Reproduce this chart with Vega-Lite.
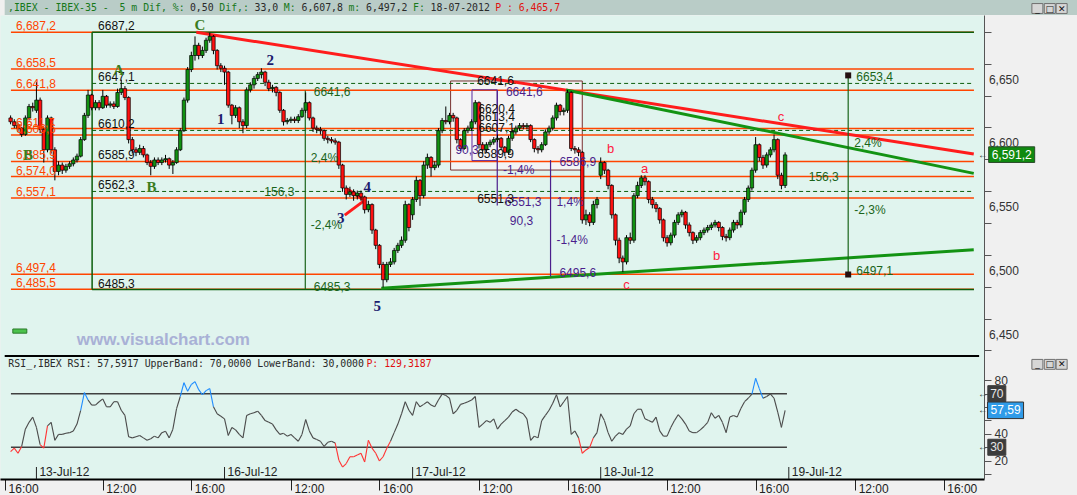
{
"$schema":"https://vega.github.io/schema/vega-lite/v6.json",
"width":984,"height":464,
"autosize":{"type":"none"},
"padding":{"left":0,"top":15,"right":93,"bottom":16},
"background":"#f0f0f0",
"config":{"view":{"fill":"#e0f4ee","stroke":"transparent"},"font":"Liberation Sans","axis":{"titleColor":"transparent","grid":false}},
"datasets":{
"bars":[
{"i":0,"o":6620,"h":6622,"l":6615,"c":6617,"r":26.8},
{"i":1,"o":6617,"h":6619,"l":6612,"c":6614,"r":29.3},
{"i":2,"o":6614,"h":6616,"l":6609,"c":6612,"r":25.5},
{"i":3,"o":6612,"h":6613,"l":6605,"c":6607,"r":30.6},
{"i":4,"o":6607,"h":6622,"l":6606,"c":6620,"r":43.5},
{"i":5,"o":6620,"h":6631,"l":6618,"c":6629,"r":48.6},
{"i":6,"o":6629,"h":6632,"l":6625,"c":6628,"r":52.5},
{"i":7,"o":6626,"h":6648,"l":6624,"c":6634,"r":44.8},
{"i":8,"o":6634,"h":6636,"l":6608,"c":6611,"r":31.9},
{"i":9,"o":6611,"h":6613,"l":6585,"c":6595,"r":29.3},
{"i":10,"o":6595,"h":6622,"l":6593,"c":6620,"r":46.0},
{"i":11,"o":6620,"h":6621,"l":6592,"c":6595,"r":48.6},
{"i":12,"o":6595,"h":6597,"l":6571,"c":6578,"r":35.2},
{"i":13,"o":6578,"h":6586,"l":6575,"c":6583,"r":39.6},
{"i":14,"o":6583,"h":6585,"l":6576,"c":6579,"r":39.6},
{"i":15,"o":6579,"h":6584,"l":6577,"c":6582,"r":40.4},
{"i":16,"o":6582,"h":6586,"l":6580,"c":6584,"r":40.9},
{"i":17,"o":6584,"h":6589,"l":6582,"c":6587,"r":42.2},
{"i":18,"o":6587,"h":6592,"l":6585,"c":6590,"r":47.3},
{"i":19,"o":6590,"h":6605,"l":6589,"c":6603,"r":57.6},
{"i":20,"o":6603,"h":6624,"l":6602,"c":6622,"r":70.8},
{"i":21,"o":6622,"h":6642,"l":6620,"c":6638,"r":65.3},
{"i":22,"o":6638,"h":6639,"l":6626,"c":6628,"r":61.5},
{"i":23,"o":6628,"h":6634,"l":6626,"c":6632,"r":61.5},
{"i":24,"o":6632,"h":6634,"l":6626,"c":6628,"r":64.0},
{"i":25,"o":6628,"h":6642,"l":6627,"c":6637,"r":66.1},
{"i":26,"o":6637,"h":6638,"l":6628,"c":6630,"r":60.2},
{"i":27,"o":6630,"h":6633,"l":6628,"c":6631,"r":60.2},
{"i":28,"o":6631,"h":6633,"l":6627,"c":6629,"r":64.0},
{"i":29,"o":6629,"h":6643,"l":6628,"c":6640,"r":64.0},
{"i":30,"o":6640,"h":6650,"l":6638,"c":6643,"r":57.6},
{"i":31,"o":6643,"h":6645,"l":6634,"c":6636,"r":53.8},
{"i":32,"o":6636,"h":6637,"l":6600,"c":6603,"r":37.8},
{"i":33,"o":6603,"h":6605,"l":6592,"c":6595,"r":37.0},
{"i":34,"o":6595,"h":6597,"l":6590,"c":6593,"r":37.8},
{"i":35,"o":6593,"h":6599,"l":6591,"c":6596,"r":38.8},
{"i":36,"o":6596,"h":6598,"l":6589,"c":6591,"r":37.0},
{"i":37,"o":6591,"h":6592,"l":6583,"c":6585,"r":35.2},
{"i":38,"o":6585,"h":6587,"l":6575,"c":6582,"r":36.3},
{"i":39,"o":6582,"h":6589,"l":6580,"c":6587,"r":38.3},
{"i":40,"o":6587,"h":6589,"l":6583,"c":6585,"r":37.0},
{"i":41,"o":6585,"h":6589,"l":6583,"c":6587,"r":40.9},
{"i":42,"o":6587,"h":6591,"l":6585,"c":6588,"r":41.9},
{"i":43,"o":6588,"h":6589,"l":6580,"c":6583,"r":37.0},
{"i":44,"o":6583,"h":6587,"l":6576,"c":6585,"r":43.5},
{"i":45,"o":6585,"h":6597,"l":6584,"c":6595,"r":58.9},
{"i":46,"o":6595,"h":6612,"l":6594,"c":6610,"r":67.9},
{"i":47,"o":6610,"h":6636,"l":6609,"c":6634,"r":78.2},
{"i":48,"o":6634,"h":6660,"l":6632,"c":6658,"r":71.8},
{"i":49,"o":6658,"h":6672,"l":6656,"c":6669,"r":76.9},
{"i":50,"o":6669,"h":6684,"l":6665,"c":6677,"r":79.0},
{"i":51,"o":6677,"h":6679,"l":6666,"c":6669,"r":73.0},
{"i":52,"o":6669,"h":6676,"l":6667,"c":6673,"r":69.2},
{"i":53,"o":6673,"h":6683,"l":6671,"c":6681,"r":72.3},
{"i":54,"o":6681,"h":6687,"l":6679,"c":6684,"r":73.8},
{"i":55,"o":6684,"h":6685,"l":6670,"c":6673,"r":60.2},
{"i":56,"o":6673,"h":6674,"l":6658,"c":6661,"r":55.0},
{"i":57,"o":6661,"h":6663,"l":6656,"c":6659,"r":53.2},
{"i":58,"o":6659,"h":6661,"l":6646,"c":6656,"r":51.2},
{"i":59,"o":6656,"h":6657,"l":6628,"c":6630,"r":38.8},
{"i":60,"o":6630,"h":6631,"l":6615,"c":6622,"r":44.8},
{"i":61,"o":6622,"h":6630,"l":6620,"c":6628,"r":43.0},
{"i":62,"o":6628,"h":6629,"l":6612,"c":6617,"r":39.6},
{"i":63,"o":6617,"h":6619,"l":6608,"c":6614,"r":37.0},
{"i":64,"o":6614,"h":6644,"l":6612,"c":6642,"r":53.8},
{"i":65,"o":6642,"h":6648,"l":6640,"c":6646,"r":55.0},
{"i":66,"o":6646,"h":6653,"l":6643,"c":6651,"r":55.8},
{"i":67,"o":6651,"h":6656,"l":6649,"c":6654,"r":56.9},
{"i":68,"o":6654,"h":6659,"l":6651,"c":6656,"r":53.8},
{"i":69,"o":6656,"h":6657,"l":6645,"c":6648,"r":49.9},
{"i":70,"o":6648,"h":6650,"l":6641,"c":6643,"r":48.6},
{"i":71,"o":6643,"h":6646,"l":6640,"c":6644,"r":47.3},
{"i":72,"o":6644,"h":6645,"l":6637,"c":6640,"r":43.0},
{"i":73,"o":6640,"h":6641,"l":6624,"c":6626,"r":39.6},
{"i":74,"o":6626,"h":6627,"l":6614,"c":6617,"r":40.4},
{"i":75,"o":6617,"h":6620,"l":6615,"c":6618,"r":38.3},
{"i":76,"o":6618,"h":6621,"l":6616,"c":6619,"r":39.6},
{"i":77,"o":6619,"h":6621,"l":6616,"c":6618,"r":37.0},
{"i":78,"o":6618,"h":6623,"l":6616,"c":6621,"r":34.5},
{"i":79,"o":6621,"h":6628,"l":6620,"c":6626,"r":39.6},
{"i":80,"o":6626,"h":6640,"l":6624,"c":6632,"r":50.7},
{"i":81,"o":6632,"h":6633,"l":6618,"c":6620,"r":42.2},
{"i":82,"o":6620,"h":6621,"l":6609,"c":6612,"r":37.0},
{"i":83,"o":6612,"h":6614,"l":6608,"c":6611,"r":35.8},
{"i":84,"o":6611,"h":6613,"l":6607,"c":6610,"r":34.5},
{"i":85,"o":6610,"h":6611,"l":6602,"c":6604,"r":30.6},
{"i":86,"o":6604,"h":6606,"l":6600,"c":6603,"r":33.7},
{"i":87,"o":6603,"h":6605,"l":6600,"c":6602,"r":34.5},
{"i":88,"o":6602,"h":6604,"l":6599,"c":6601,"r":33.2},
{"i":89,"o":6601,"h":6602,"l":6580,"c":6583,"r":20.3},
{"i":90,"o":6583,"h":6584,"l":6562,"c":6565,"r":15.2},
{"i":91,"o":6565,"h":6567,"l":6556,"c":6560,"r":17.8},
{"i":92,"o":6560,"h":6566,"l":6558,"c":6562,"r":22.9},
{"i":93,"o":6562,"h":6564,"l":6555,"c":6559,"r":22.9},
{"i":94,"o":6559,"h":6563,"l":6556,"c":6561,"r":24.2},
{"i":95,"o":6561,"h":6563,"l":6555,"c":6558,"r":25.5},
{"i":96,"o":6558,"h":6559,"l":6545,"c":6548,"r":19.0},
{"i":97,"o":6548,"h":6555,"l":6546,"c":6552,"r":35.2},
{"i":98,"o":6552,"h":6553,"l":6529,"c":6532,"r":29.3},
{"i":99,"o":6532,"h":6533,"l":6517,"c":6520,"r":25.5},
{"i":100,"o":6520,"h":6521,"l":6502,"c":6505,"r":19.8},
{"i":101,"o":6505,"h":6507,"l":6487,"c":6493,"r":22.9},
{"i":102,"o":6493,"h":6507,"l":6491,"c":6505,"r":29.3},
{"i":103,"o":6505,"h":6510,"l":6503,"c":6507,"r":34.5},
{"i":104,"o":6507,"h":6518,"l":6505,"c":6516,"r":40.9},
{"i":105,"o":6516,"h":6522,"l":6514,"c":6520,"r":47.3},
{"i":106,"o":6520,"h":6527,"l":6518,"c":6524,"r":55.0},
{"i":107,"o":6524,"h":6555,"l":6522,"c":6552,"r":64.0},
{"i":108,"o":6552,"h":6553,"l":6531,"c":6534,"r":57.6},
{"i":109,"o":6544,"h":6558,"l":6540,"c":6556,"r":53.8},
{"i":110,"o":6556,"h":6574,"l":6554,"c":6571,"r":64.0},
{"i":111,"o":6571,"h":6572,"l":6551,"c":6559,"r":60.2},
{"i":112,"o":6559,"h":6586,"l":6557,"c":6583,"r":62.0},
{"i":113,"o":6583,"h":6592,"l":6580,"c":6589,"r":64.0},
{"i":114,"o":6589,"h":6590,"l":6574,"c":6581,"r":61.5},
{"i":115,"o":6581,"h":6586,"l":6579,"c":6583,"r":60.2},
{"i":116,"o":6583,"h":6612,"l":6581,"c":6610,"r":65.3},
{"i":117,"o":6610,"h":6620,"l":6608,"c":6618,"r":69.7},
{"i":118,"o":6618,"h":6629,"l":6615,"c":6617,"r":68.7},
{"i":119,"o":6617,"h":6624,"l":6615,"c":6622,"r":66.6},
{"i":120,"o":6622,"h":6624,"l":6617,"c":6620,"r":55.0},
{"i":121,"o":6620,"h":6621,"l":6600,"c":6603,"r":57.6},
{"i":122,"o":6603,"h":6604,"l":6594,"c":6596,"r":62.0},
{"i":123,"o":6596,"h":6612,"l":6595,"c":6610,"r":62.8},
{"i":124,"o":6610,"h":6614,"l":6608,"c":6612,"r":64.0},
{"i":125,"o":6612,"h":6619,"l":6610,"c":6617,"r":65.3},
{"i":126,"o":6617,"h":6634,"l":6615,"c":6632,"r":67.9},
{"i":127,"o":6632,"h":6633,"l":6596,"c":6599,"r":44.8},
{"i":128,"o":6599,"h":6601,"l":6592,"c":6595,"r":47.3},
{"i":129,"o":6595,"h":6601,"l":6593,"c":6599,"r":49.9},
{"i":130,"o":6599,"h":6603,"l":6597,"c":6601,"r":48.6},
{"i":131,"o":6601,"h":6605,"l":6599,"c":6603,"r":51.2},
{"i":132,"o":6603,"h":6607,"l":6601,"c":6604,"r":43.5},
{"i":133,"o":6604,"h":6605,"l":6595,"c":6597,"r":47.3},
{"i":134,"o":6597,"h":6598,"l":6590,"c":6593,"r":49.9},
{"i":135,"o":6593,"h":6606,"l":6591,"c":6604,"r":52.5},
{"i":136,"o":6604,"h":6611,"l":6602,"c":6609,"r":56.3},
{"i":137,"o":6609,"h":6614,"l":6607,"c":6612,"r":58.4},
{"i":138,"o":6612,"h":6616,"l":6610,"c":6614,"r":56.3},
{"i":139,"o":6614,"h":6616,"l":6611,"c":6613,"r":55.0},
{"i":140,"o":6613,"h":6616,"l":6611,"c":6614,"r":51.2},
{"i":141,"o":6614,"h":6615,"l":6601,"c":6603,"r":35.2},
{"i":142,"o":6603,"h":6604,"l":6593,"c":6596,"r":38.3},
{"i":143,"o":6596,"h":6598,"l":6592,"c":6595,"r":37.0},
{"i":144,"o":6595,"h":6601,"l":6593,"c":6599,"r":49.9},
{"i":145,"o":6599,"h":6611,"l":6598,"c":6609,"r":53.8},
{"i":146,"o":6609,"h":6614,"l":6607,"c":6612,"r":57.6},
{"i":147,"o":6612,"h":6622,"l":6610,"c":6620,"r":62.8},
{"i":148,"o":6620,"h":6632,"l":6618,"c":6630,"r":69.2},
{"i":149,"o":6630,"h":6631,"l":6622,"c":6625,"r":60.2},
{"i":150,"o":6625,"h":6628,"l":6622,"c":6626,"r":64.0},
{"i":151,"o":6626,"h":6642,"l":6624,"c":6640,"r":67.9},
{"i":152,"o":6640,"h":6641,"l":6594,"c":6596,"r":39.6},
{"i":153,"o":6596,"h":6598,"l":6592,"c":6595,"r":42.2},
{"i":154,"o":6595,"h":6597,"l":6590,"c":6593,"r":37.0},
{"i":155,"o":6593,"h":6594,"l":6537,"c":6540,"r":25.5},
{"i":156,"o":6540,"h":6548,"l":6536,"c":6544,"r":28.0},
{"i":157,"o":6544,"h":6546,"l":6535,"c":6538,"r":29.8},
{"i":158,"o":6538,"h":6555,"l":6536,"c":6552,"r":37.0},
{"i":159,"o":6552,"h":6558,"l":6549,"c":6556,"r":40.9},
{"i":160,"o":6575,"h":6589,"l":6572,"c":6585,"r":55.0},
{"i":161,"o":6585,"h":6586,"l":6576,"c":6579,"r":49.9},
{"i":162,"o":6579,"h":6580,"l":6564,"c":6567,"r":40.9},
{"i":163,"o":6567,"h":6568,"l":6541,"c":6544,"r":34.5},
{"i":164,"o":6544,"h":6545,"l":6520,"c":6524,"r":38.3},
{"i":165,"o":6524,"h":6526,"l":6506,"c":6510,"r":40.9},
{"i":166,"o":6510,"h":6512,"l":6499,"c":6507,"r":39.6},
{"i":167,"o":6507,"h":6528,"l":6505,"c":6526,"r":43.5},
{"i":168,"o":6526,"h":6530,"l":6521,"c":6524,"r":46.0},
{"i":169,"o":6524,"h":6561,"l":6522,"c":6559,"r":55.0},
{"i":170,"o":6559,"h":6570,"l":6557,"c":6567,"r":58.4},
{"i":171,"o":6567,"h":6575,"l":6565,"c":6573,"r":58.4},
{"i":172,"o":6573,"h":6575,"l":6567,"c":6570,"r":51.2},
{"i":173,"o":6570,"h":6571,"l":6553,"c":6556,"r":49.9},
{"i":174,"o":6556,"h":6558,"l":6549,"c":6552,"r":48.6},
{"i":175,"o":6552,"h":6554,"l":6546,"c":6549,"r":52.5},
{"i":176,"o":6549,"h":6550,"l":6537,"c":6540,"r":42.2},
{"i":177,"o":6540,"h":6541,"l":6523,"c":6526,"r":38.3},
{"i":178,"o":6526,"h":6528,"l":6519,"c":6522,"r":38.3},
{"i":179,"o":6522,"h":6530,"l":6520,"c":6528,"r":44.8},
{"i":180,"o":6528,"h":6540,"l":6526,"c":6538,"r":49.9},
{"i":181,"o":6538,"h":6546,"l":6536,"c":6544,"r":54.3},
{"i":182,"o":6544,"h":6548,"l":6542,"c":6546,"r":51.2},
{"i":183,"o":6546,"h":6547,"l":6533,"c":6536,"r":47.3},
{"i":184,"o":6536,"h":6538,"l":6527,"c":6530,"r":42.2},
{"i":185,"o":6530,"h":6531,"l":6521,"c":6524,"r":40.9},
{"i":186,"o":6524,"h":6528,"l":6522,"c":6526,"r":40.9},
{"i":187,"o":6526,"h":6532,"l":6524,"c":6530,"r":43.0},
{"i":188,"o":6530,"h":6534,"l":6528,"c":6532,"r":45.5},
{"i":189,"o":6532,"h":6536,"l":6530,"c":6534,"r":48.6},
{"i":190,"o":6534,"h":6538,"l":6532,"c":6536,"r":55.8},
{"i":191,"o":6536,"h":6540,"l":6534,"c":6538,"r":51.7},
{"i":192,"o":6538,"h":6539,"l":6531,"c":6534,"r":53.8},
{"i":193,"o":6534,"h":6535,"l":6524,"c":6527,"r":48.6},
{"i":194,"o":6527,"h":6529,"l":6523,"c":6526,"r":40.9},
{"i":195,"o":6526,"h":6534,"l":6524,"c":6532,"r":52.5},
{"i":196,"o":6532,"h":6540,"l":6530,"c":6538,"r":53.8},
{"i":197,"o":6538,"h":6540,"l":6533,"c":6536,"r":52.5},
{"i":198,"o":6536,"h":6548,"l":6534,"c":6546,"r":58.9},
{"i":199,"o":6546,"h":6558,"l":6544,"c":6556,"r":64.0},
{"i":200,"o":6556,"h":6567,"l":6554,"c":6565,"r":66.6},
{"i":201,"o":6565,"h":6581,"l":6563,"c":6579,"r":69.7},
{"i":202,"o":6579,"h":6605,"l":6577,"c":6599,"r":81.5},
{"i":203,"o":6599,"h":6600,"l":6586,"c":6589,"r":73.8},
{"i":204,"o":6589,"h":6591,"l":6580,"c":6583,"r":66.6},
{"i":205,"o":6583,"h":6593,"l":6581,"c":6591,"r":67.9},
{"i":206,"o":6591,"h":6597,"l":6589,"c":6595,"r":69.8},
{"i":207,"o":6595,"h":6607,"l":6593,"c":6603,"r":66.6},
{"i":208,"o":6603,"h":6604,"l":6572,"c":6575,"r":56.3},
{"i":209,"o":6575,"h":6577,"l":6564,"c":6567,"r":44.8},
{"i":210,"o":6567,"h":6593,"l":6565,"c":6591,"r":57.6}
],
"levels":[{"p":6687.2,"lab":"6,687,2"},{"p":6658.5,"lab":"6,658,5"},{"p":6641.8,"lab":"6,641,8"},{"p":6611.7,"lab":"6,611,7"},{"p":6606.6,"lab":"6,606,6"},{"p":6585.9,"lab":"6,585,9"},{"p":6574.0,"lab":"6,574,0"},{"p":6557.1,"lab":"6,557,1"},{"p":6497.4,"lab":"6,497,4"},{"p":6485.5,"lab":"6,485,5"}],
"fib":[{"p":6687.2,"lab":"6687,2"},{"p":6647.1,"lab":"6647,1"},{"p":6610.2,"lab":"6610,2"},{"p":6585.9,"lab":"6585,9"},{"p":6562.3,"lab":"6562,3"},{"p":6485.3,"lab":"6485,3"}],
"trend":[{"k1":50.36,"p1":6687.2,"k2":261.15,"p2":6591.7,"line":"resistance"},{"k1":150.6,"p1":6641.9,"k2":261.15,"p2":6576.5,"line":"upper channel"},{"k1":100.5,"p1":6486.3,"k2":261.15,"p2":6516.6,"line":"support"},{"k1":91.3,"p1":6564.3,"k2":95.6,"p2":6555.8,"line":"wedge"},{"k1":90.6,"p1":6543.7,"k2":95.6,"p2":6554.5,"line":"wedge"}],
"measures":[{"k":79.9,"p1":6485.3,"p2":6641.6,"tool":"A"},{"k":227.1,"p1":6497.1,"p2":6653.4,"tool":"A"},{"k":131.95,"p1":6551.3,"p2":6641.6,"tool":"B"},{"k":146.4,"p1":6495.6,"p2":6586.9,"tool":"B"}],
"notes":[
{"k":82.2,"p":6640.3,"txt":"6641,6","tool":"A"},{"k":81.4,"p":6588.5,"txt":"2,4%","tool":"A"},{"k":68.8,"p":6561.8,"txt":"156,3","tool":"A"},{"k":81.4,"p":6535.9,"txt":"-2,4%","tool":"A"},{"k":82.2,"p":6487.2,"txt":"6485,3","tool":"A"},
{"k":229.3,"p":6652.1,"txt":"6653,4","tool":"A"},{"k":228.75,"p":6600.3,"txt":"2,4%","tool":"A"},{"k":216.4,"p":6573.6,"txt":"156,3","tool":"A"},{"k":228.75,"p":6547.7,"txt":"-2,3%","tool":"A"},{"k":229.3,"p":6499.8,"txt":"6497,1","tool":"A"},
{"k":134.3,"p":6640.3,"txt":"6641,6","tool":"B"},{"k":133.5,"p":6579.1,"txt":"-1,4%","tool":"B"},{"k":134.0,"p":6554.0,"txt":"6551,3","tool":"B"},{"k":135.35,"p":6539.1,"txt":"90,3","tool":"B"},{"k":120.6,"p":6594.8,"txt":"90,3","tool":"B"},
{"k":148.8,"p":6585.4,"txt":"6586,9","tool":"B"},{"k":148.0,"p":6554.0,"txt":"1,4%","tool":"B"},{"k":148.0,"p":6524.2,"txt":"-1,4%","tool":"B"},{"k":148.8,"p":6498.3,"txt":"6495,6","tool":"B"},
{"k":126.5,"p":6649.0,"txt":"6641,6","tool":"box"},{"k":126.8,"p":6627.0,"txt":"6620,4","tool":"box"},{"k":126.8,"p":6620.7,"txt":"6613,4","tool":"box"},{"k":126.8,"p":6612.1,"txt":"6607,1","tool":"box"},{"k":126.5,"p":6591.7,"txt":"6589,9","tool":"box"},{"k":126.5,"p":6556.5,"txt":"6551,3","tool":"box"}
],
"waves":[{"k":51.35,"p":6692.9,"txt":"C","deg":"primary"},{"k":29.3,"p":6657.6,"txt":"A","deg":"primary"},{"k":38.2,"p":6565.8,"txt":"B","deg":"primary"},{"k":4.74,"p":6591.0,"txt":"B","deg":"primary"},{"k":57.0,"p":6619.1,"txt":"1","deg":"minor"},{"k":70.4,"p":6665.5,"txt":"2","deg":"minor"},{"k":89.5,"p":6541.5,"txt":"3","deg":"minor"},{"k":96.7,"p":6565.8,"txt":"4","deg":"minor"},{"k":99.4,"p":6472.4,"txt":"5","deg":"minor"}],
"subwaves":[{"k":162.7,"p":6595.7,"txt":"b"},{"k":171.9,"p":6580.0,"txt":"a"},{"k":167.0,"p":6489.0,"txt":"c"},{"k":191.4,"p":6511.7,"txt":"b"},{"k":208.9,"p":6621.0,"txt":"c"}],
"head":[{"k":-0.71,"txt":",IBEX - IBEX-35 -","role":"label"},{"k":29.52,"txt":"5 m Dif, %:","role":"label"},{"k":48.62,"txt":"0,50","role":"value"},{"k":56.58,"txt":"Dif,:","role":"label"},{"k":66.13,"txt":"33,0","role":"value"},{"k":74.09,"txt":"M:","role":"label"},{"k":78.86,"txt":"6,607,8","role":"value"},{"k":91.6,"txt":"m:","role":"label"},{"k":96.37,"txt":"6,497,2","role":"value"},{"k":109.1,"txt":"F:","role":"label"},{"k":113.88,"txt":"18-07-2012","role":"value"},{"k":131.38,"txt":"P :","role":"price"},{"k":137.75,"txt":"6,465,7","role":"price"}],
"rsihead":[{"k":-0.61,"txt":"RSI_,IBEX RSI: 57,5917 UpperBand: 70,0000 LowerBand: 30,0000","role":"value"},{"k":96.47,"txt":"P: 129,3187","role":"price"}],
"days":[{"i":7,"day":"13-Jul-12"},{"i":58,"day":"16-Jul-12"},{"i":109,"day":"17-Jul-12"},{"i":160,"day":"18-Jul-12"},{"i":211,"day":"19-Jul-12"}],
"rsiref":[{"r":70,"txt":"70","kind":"band"},{"r":30,"txt":"30","kind":"band"},{"r":57.59,"txt":"57,59","kind":"last"}],
"last":[{"p":6591.2,"txt":"6,591,2"}],
"pricelabels":[{"p":6450},{"p":6500},{"p":6550},{"p":6600},{"p":6650}],
"buttons":[{"k":278.4,"btn":"minimize","glyph":"_"},{"k":281.76,"btn":"maximize","glyph":"□"},{"k":284.98,"btn":"close","glyph":"✕"}]
},
"layer":[
{"layer":[
{"data":{"values":[{}]},"mark":{"type":"rect","fill":"#b9ccc7"},"encoding":{"x":{"datum":-1.6},"x2":{"datum":292},"y":{"datum":6700.8},"y2":{"datum":6716}}},
{"data":{"values":[{}]},"mark":{"type":"rect","fill":"#f4f4f4","stroke":"#7a3030","strokeWidth":1},"encoding":{"x":{"datum":119.3},"x2":{"datum":155.0},"y":{"datum":6649},"y2":{"datum":6579.1}}},
{"data":{"name":"levels"},"mark":{"type":"rule","color":"#ff4500","strokeWidth":1.5},"encoding":{"x":{"datum":0.09},"x2":{"datum":261.2},"y":{"field":"p","type":"quantitative","scale":{"domain":[6336.6,6700.8],"nice":false,"zero":false},"axis":{"orient":"right","offset":0,"values":[6437.5,6450,6462.5,6475,6487.5,6500,6512.5,6525,6537.5,6550,6562.5,6575,6587.5,6600,6612.5,6625,6637.5,6650,6662.5,6675,6687.5,6700],"labels":false,"tickSize":7,"tickColor":"#555555","domainColor":"#555555","title":null,"grid":false}}}},
{"data":{"name":"pricelabels"},"mark":{"type":"text","font":"Liberation Sans","fontSize":12,"align":"left","baseline":"middle","color":"#333333"},"encoding":{"x":{"datum":265.26},"y":{"field":"p","type":"quantitative"},"text":{"field":"p","type":"quantitative","format":",.0f"}}},
{"data":{"values":[{}]},"mark":{"type":"rect","fill":"transparent","stroke":"#5a2aa0","strokeWidth":1},"encoding":{"x":{"datum":125.1},"x2":{"datum":131.95},"y":{"datum":6642.1},"y2":{"datum":6586.5}}},
{"data":{"name":"fib"},"transform":[{"filter":"datum.p == 6687.2 || datum.p == 6485.3"}],"mark":{"type":"rule","color":"#0b5e0b","strokeWidth":1.5},"encoding":{"x":{"datum":22.1},"x2":{"datum":261.2},"y":{"field":"p","type":"quantitative"}}},
{"data":{"values":[{}]},"mark":{"type":"rule","color":"#0b5e0b","strokeWidth":1.5},"encoding":{"x":{"datum":22.1},"y":{"datum":6485.3},"y2":{"datum":6687.2}}},
{"data":{"name":"fib"},"transform":[{"filter":"datum.p == 6647.1 || datum.p == 6610.2 || datum.p == 6562.3"}],"mark":{"type":"rule","color":"#0b5e0b","strokeWidth":1,"strokeDash":[4,3]},"encoding":{"x":{"datum":22.1},"x2":{"datum":261.2},"y":{"field":"p","type":"quantitative"}}},
{"data":{"name":"trend"},"mark":{"type":"rule","strokeWidth":3},"encoding":{"x":{"field":"k1","type":"quantitative"},"x2":{"field":"k2"},"y":{"field":"p1","type":"quantitative"},"y2":{"field":"p2"},"color":{"condition":{"test":"datum.line == 'resistance' || datum.line == 'wedge'","value":"#ff1c1c"},"value":"#139313"}}},
{"data":{"name":"measures"},"mark":{"type":"rule","strokeWidth":1.2},"encoding":{"x":{"field":"k","type":"quantitative"},"y":{"field":"p1","type":"quantitative"},"y2":{"field":"p2"},"color":{"condition":{"test":"datum.tool == 'A'","value":"#1a641a"},"value":"#4b1e8c"}}},
{"data":{"name":"measures"},"transform":[{"filter":"datum.k > 200"}],"mark":{"type":"point","shape":"square","size":36,"filled":true,"color":"#241010","opacity":1,"dy":-3},"encoding":{"x":{"field":"k","type":"quantitative"},"y":{"field":"p2","type":"quantitative"}}},
{"data":{"name":"measures"},"transform":[{"filter":"datum.k > 200"}],"mark":{"type":"point","shape":"square","size":36,"filled":true,"color":"#241010","opacity":1,"dy":4},"encoding":{"x":{"field":"k","type":"quantitative"},"y":{"field":"p1","type":"quantitative"}}},
{"data":{"name":"bars"},"mark":{"type":"rule","color":"#000000","strokeWidth":1},"encoding":{"x":{"field":"i","type":"quantitative","scale":{"domain":[-1.52,262.57],"nice":false,"zero":false},"axis":{"values":[-1.5,25,49,76,100,127,151,178,202,229,253],"labelExpr":"(datum.value - 25) % 51 == 0 ? '12:00' : '16:00'","tickSize":11,"labelAlign":"left","labelOffset":3,"labelPadding":-7,"labelBaseline":"top","labelFontSize":12,"labelColor":"#222222","tickColor":"#222222","domainColor":"#000000","domainWidth":2,"title":null,"grid":false,"labelOverlap":false,"labelFlush":false,"labelBound":false}},"y":{"field":"l","type":"quantitative"},"y2":{"field":"h"}}},
{"data":{"name":"bars"},"mark":{"type":"bar","width":3.4,"stroke":"#000000","strokeWidth":0.7},"encoding":{"x":{"field":"i","type":"quantitative"},"y":{"field":"o","type":"quantitative"},"y2":{"field":"c"},"color":{"condition":{"test":"datum.c >= datum.o","value":"#119111"},"value":"#ff1010"}}},
{"data":{"values":[{}]},"mark":{"type":"rule","color":"#000000","strokeWidth":2},"encoding":{"x":{"datum":-1.6},"x2":{"datum":262.6},"y":{"datum":6433.1}}},
{"data":{"name":"levels"},"mark":{"type":"text","font":"Liberation Sans","fontSize":12,"align":"left","baseline":"alphabetic","dy":-2,"color":"#ff4500"},"encoding":{"x":{"datum":1.43},"y":{"field":"p","type":"quantitative"},"text":{"field":"lab"}}},
{"data":{"name":"fib"},"mark":{"type":"text","font":"Liberation Sans","fontSize":12,"align":"left","baseline":"alphabetic","dy":-2,"color":"#111111"},"encoding":{"x":{"datum":23.71},"y":{"field":"p","type":"quantitative"},"text":{"field":"lab"}}},
{"data":{"name":"notes"},"mark":{"type":"text","font":"Liberation Sans","fontSize":12,"align":"left","baseline":"middle"},"encoding":{"x":{"field":"k","type":"quantitative"},"y":{"field":"p","type":"quantitative"},"text":{"field":"txt"},"color":{"condition":[{"test":"datum.tool == 'A'","value":"#1a641a"},{"test":"datum.tool == 'B'","value":"#4b1e8c"}],"value":"#111111"}}},
{"data":{"name":"waves"},"mark":{"type":"text","font":"Liberation Serif","fontSize":15,"fontWeight":"bold","align":"center","baseline":"middle"},"encoding":{"x":{"field":"k","type":"quantitative"},"y":{"field":"p","type":"quantitative"},"text":{"field":"txt"},"color":{"condition":{"test":"datum.deg == 'primary'","value":"#3b7d1e"},"value":"#1c1c6e"}}},
{"data":{"name":"subwaves"},"mark":{"type":"text","font":"Liberation Sans","fontSize":13,"align":"center","baseline":"middle","color":"#ff2040"},"encoding":{"x":{"field":"k","type":"quantitative"},"y":{"field":"p","type":"quantitative"},"text":{"field":"txt"}}},
{"data":{"values":[{"site":"www.visualchart.com"}]},"mark":{"type":"text","font":"Liberation Sans","fontSize":17,"fontWeight":"bold","align":"center","baseline":"middle","color":"#a9b1d6"},"encoding":{"x":{"datum":41.4},"y":{"datum":6445.8},"text":{"field":"site"}}},
{"data":{"name":"head"},"mark":{"type":"text","font":"DejaVu Sans Mono","fontSize":9.85,"align":"left","baseline":"middle"},"encoding":{"x":{"field":"k","type":"quantitative"},"y":{"datum":6706.3},"text":{"field":"txt"},"color":{"condition":[{"test":"datum.role == 'label'","value":"#16781a"},{"test":"datum.role == 'price'","value":"#e01010"}],"value":"#2a2a2a"}}},
{"data":{"name":"buttons"},"mark":{"type":"point","shape":"M-1,-0.9H1V0.9H-1Z","size":121,"filled":true,"fill":"#d6d6d6","stroke":"#707070","strokeWidth":1,"opacity":1},"encoding":{"x":{"field":"k","type":"quantitative"},"y":{"datum":6705.9}}},
{"data":{"name":"buttons"},"mark":{"type":"text","font":"DejaVu Sans","fontSize":9,"align":"center","baseline":"middle","color":"#111111"},"encoding":{"x":{"field":"k","type":"quantitative"},"y":{"datum":6705.9},"text":{"field":"glyph"}}},
{"data":{"name":"last"},"mark":{"type":"point","shape":"M-1,-0.34H1V0.34H-1Z","size":2116,"filled":true,"fill":"#108a10","stroke":"#2a4a2a","strokeWidth":1,"opacity":1},"encoding":{"x":{"datum":271.43},"y":{"field":"p","type":"quantitative"}}},
{"data":{"name":"last"},"mark":{"type":"text","font":"Liberation Sans","fontSize":12,"align":"center","baseline":"middle","color":"#ffffff"},"encoding":{"x":{"datum":271.43},"y":{"field":"p","type":"quantitative"},"text":{"field":"txt"}}},
{"data":{"name":"last"},"mark":{"type":"text","font":"Liberation Sans","fontSize":10,"align":"center","baseline":"middle","color":"#333333"},"encoding":{"x":{"datum":263.64},"y":{"field":"p","type":"quantitative"},"text":{"value":"←"}}},
{"data":{"values":[{}]},"mark":{"type":"point","shape":"M-1,-0.3H1V0.3H-1Z","size":196,"filled":true,"fill":"#4cc24c","stroke":"#2a7a2a","strokeWidth":1,"opacity":1},"encoding":{"x":{"datum":2.5},"y":{"datum":6452.7}}}
]},
{"layer":[
{"data":{"name":"rsiref"},"transform":[{"filter":"datum.kind == 'band'"}],"mark":{"type":"rule","color":"#404040","strokeWidth":1.5},"encoding":{"x":{"datum":0.09},"x2":{"datum":210.5},"y":{"field":"r","type":"quantitative","scale":{"domain":[6.29,352.8],"nice":false,"zero":false},"axis":{"orient":"right","offset":0,"values":[10,20,30,40,50,60,70,80],"labelExpr":"(datum.value == 80 || datum.value == 40 || datum.value == 20) ? ('' + datum.value) : ''","domain":false,"tickSize":7,"tickColor":"#555555","labelColor":"#333333","labelFontSize":12,"labelPadding":3,"labelBaseline":"middle","labelOverlap":false,"title":null,"grid":false}}}},
{"data":{"name":"bars"},"transform":[{"window":[{"op":"lead","field":"r","as":"rn"},{"op":"lead","field":"i","as":"inext"}],"sort":[{"field":"i","order":"ascending"}]},{"filter":"isValid(datum.rn)"}],"mark":{"type":"rule","strokeWidth":1.1},"encoding":{"x":{"field":"i","type":"quantitative"},"x2":{"field":"inext"},"y":{"field":"r","type":"quantitative"},"y2":{"field":"rn"},"color":{"condition":[{"test":"max(datum.r, datum.rn) > 70","value":"#1e8cff"},{"test":"min(datum.r, datum.rn) < 30","value":"#ff3333"}],"value":"#4a4a4a"}}},
{"data":{"name":"days"},"mark":{"type":"rule","color":"#222222","strokeWidth":1},"encoding":{"x":{"field":"i","type":"quantitative"},"y":{"datum":6.29},"y2":{"datum":15.25}}},
{"data":{"name":"days"},"mark":{"type":"text","font":"Liberation Sans","fontSize":12,"align":"left","baseline":"alphabetic","dx":3,"color":"#222222"},"encoding":{"x":{"field":"i","type":"quantitative"},"y":{"datum":8.5},"text":{"field":"day"}}},
{"data":{"name":"rsihead"},"mark":{"type":"text","font":"DejaVu Sans Mono","fontSize":9.85,"align":"left","baseline":"middle"},"encoding":{"x":{"field":"k","type":"quantitative"},"y":{"datum":92.2},"text":{"field":"txt"},"color":{"condition":{"test":"datum.role == 'price'","value":"#e01010"},"value":"#2a2a2a"}}},
{"data":{"name":"buttons"},"mark":{"type":"point","shape":"M-1,-0.9H1V0.9H-1Z","size":121,"filled":true,"fill":"#d6d6d6","stroke":"#707070","strokeWidth":1,"opacity":1},"encoding":{"x":{"field":"k","type":"quantitative"},"y":{"datum":91.9}}},
{"data":{"name":"buttons"},"mark":{"type":"text","font":"DejaVu Sans","fontSize":9,"align":"center","baseline":"middle","color":"#111111"},"encoding":{"x":{"field":"k","type":"quantitative"},"y":{"datum":91.9},"text":{"field":"glyph"}}},
{"data":{"name":"rsiref"},"transform":[{"filter":"datum.kind == 'band'"}],"mark":{"type":"point","shape":"M-1,-0.89H1V0.89H-1Z","size":324,"filled":true,"fill":"#3c3c3c","stroke":"#3c3c3c","strokeWidth":1,"opacity":1},"encoding":{"x":{"datum":267.4},"y":{"field":"r","type":"quantitative"}}},
{"data":{"name":"rsiref"},"transform":[{"filter":"datum.kind == 'band'"}],"mark":{"type":"text","font":"Liberation Sans","fontSize":12,"align":"center","baseline":"middle","color":"#e6e6e6"},"encoding":{"x":{"datum":267.4},"y":{"field":"r","type":"quantitative"},"text":{"field":"txt"}}},
{"data":{"name":"rsiref"},"transform":[{"filter":"datum.kind == 'last'"}],"mark":{"type":"point","shape":"M-1,-0.46H1V0.46H-1Z","size":1296,"filled":true,"fill":"#2f9be8","stroke":"#333333","strokeWidth":1,"opacity":1},"encoding":{"x":{"datum":269.77},"y":{"field":"r","type":"quantitative"}}},
{"data":{"name":"rsiref"},"transform":[{"filter":"datum.kind == 'last'"}],"mark":{"type":"text","font":"Liberation Sans","fontSize":12,"align":"center","baseline":"middle","color":"#ffffff"},"encoding":{"x":{"datum":269.77},"y":{"field":"r","type":"quantitative"},"text":{"field":"txt"}}},
{"data":{"name":"rsiref"},"mark":{"type":"text","font":"Liberation Sans","fontSize":10,"align":"center","baseline":"middle","color":"#333333"},"encoding":{"x":{"datum":263.64},"y":{"field":"r","type":"quantitative"},"text":{"value":"←"}}}
]}
],
"resolve":{"scale":{"y":"independent"},"axis":{"y":"independent"}}
}
